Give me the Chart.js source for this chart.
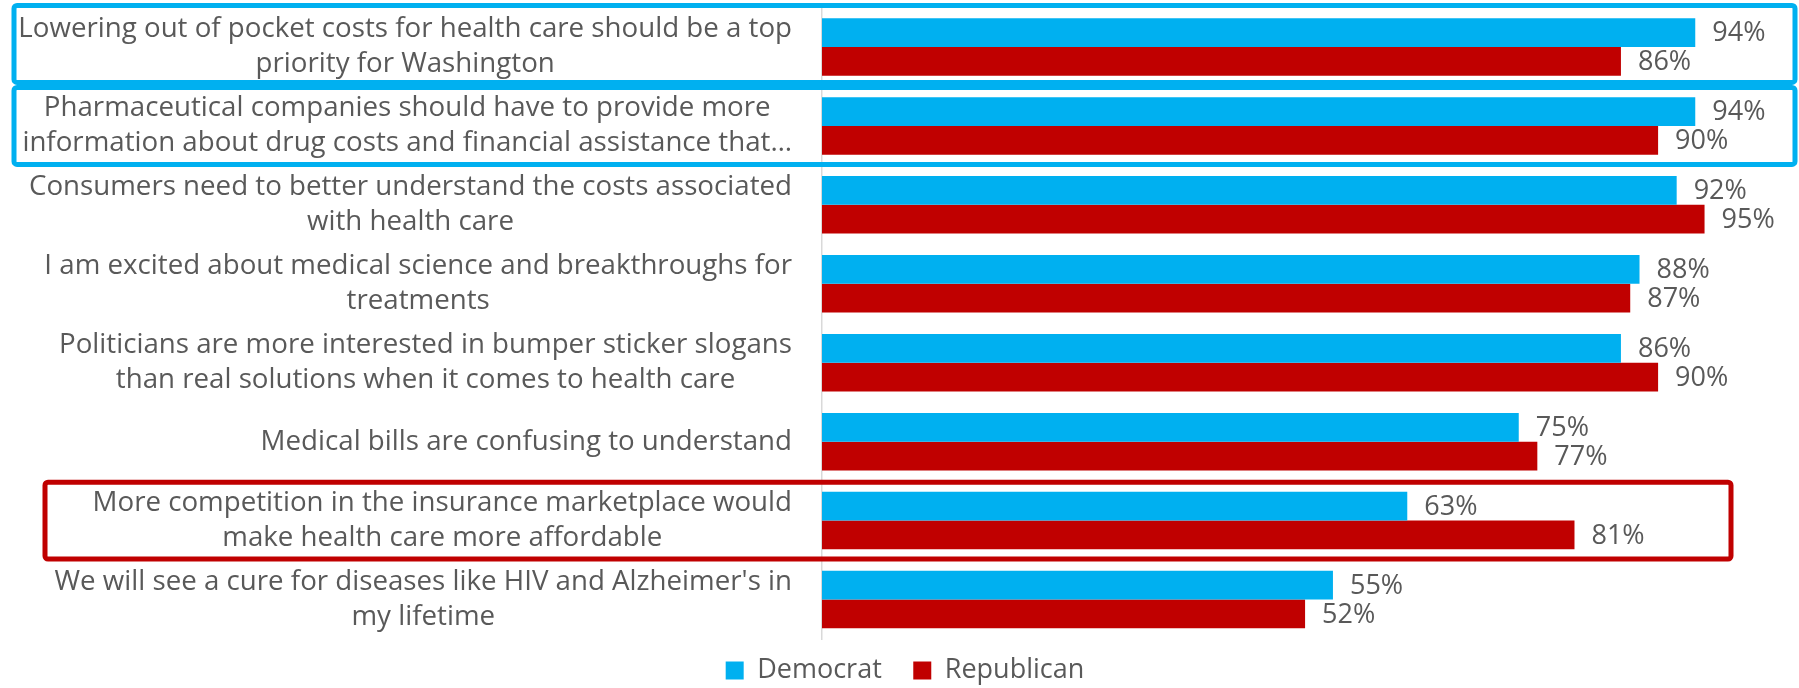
<!DOCTYPE html>
<html>
<head>
<meta charset="utf-8">
<title>Health care attitudes by party</title>
<script src="https://cdn.jsdelivr.net/npm/chart.js@4.4.1/dist/chart.umd.min.js"></script>
<style>
  html, body { margin: 0; padding: 0; background: #ffffff; }
  #wrap { width: 1799px; height: 688px; }
</style>
</head>
<body>
<div id="wrap"><canvas id="chart" width="1799" height="688"></canvas></div>
<script>
"use strict";

// Data
const categories = [
  ["Lowering out of pocket costs for health care should be a top", "priority for Washington"],
  ["Pharmaceutical companies should have to provide more", "information about drug costs and financial assistance that\u2026"],
  ["Consumers need to better understand the costs associated", "with health care"],
  ["I am excited about medical science and breakthroughs for", "treatments"],
  ["Politicians are more interested in bumper sticker slogans", "than real solutions when it comes to health care"],
  ["Medical bills are confusing to understand"],
  ["More competition in the insurance marketplace would", "make health care more affordable"],
  ["We will see a cure for diseases like HIV and Alzheimer's in", "my lifetime"],
];
const democrat = [94, 94, 92, 88, 86, 75, 63, 55];
const republican = [86, 90, 95, 87, 90, 77, 81, 52];
const seriesNames = ["Democrat", "Republican"];

// Look
const FONT = "'Open Sans', 'Noto Sans', sans-serif";
const TEXT_COLOR = "#595959";
const BLUE = "#00B0F0";
const RED = "#C00000";
const LABEL_RIGHT = 792; // right edge of the category label blocks
const LINE_HEIGHT = 35;

// Highlight frames drawn around some categories
const frames = [
  { index: 0, color: BLUE, left: 14, right: 1795, topAdj: -2, bottomAdj: -4 },
  { index: 1, color: BLUE, left: 14, right: 1795, topAdj: 1, bottomAdj: -1 },
  { index: 6, color: RED, left: 45, right: 1731, topAdj: 1, bottomAdj: -1 },
];

// Category labels: block right-aligned next to the axis, lines centred inside the block
const categoryLabels = {
  id: "categoryLabels",
  afterDraw(chart) {
    const { ctx } = chart;
    const yScale = chart.scales.y;
    ctx.save();
    ctx.font = `27.7px ${FONT}`;
    ctx.fillStyle = TEXT_COLOR;
    ctx.textAlign = "center";
    ctx.textBaseline = "middle";
    categories.forEach((lines, i) => {
      const y = yScale.getPixelForValue(i);
      const w = Math.max(...lines.map((l) => ctx.measureText(l).width));
      const cx = LABEL_RIGHT - w / 2;
      const y0 = y - ((lines.length - 1) * LINE_HEIGHT) / 2;
      lines.forEach((line, k) => ctx.fillText(line, cx, y0 + k * LINE_HEIGHT));
    });
    ctx.restore();
  },
};

// Percent labels at the end of each bar
const valueLabels = {
  id: "valueLabels",
  afterDatasetsDraw(chart) {
    const { ctx } = chart;
    ctx.save();
    ctx.font = `27px ${FONT}`;
    ctx.fillStyle = TEXT_COLOR;
    ctx.textAlign = "left";
    ctx.textBaseline = "middle";
    chart.data.datasets.forEach((ds, di) => {
      chart.getDatasetMeta(di).data.forEach((bar, i) => {
        ctx.fillText(`${ds.data[i]}%`, bar.x + 17, bar.y + 1);
      });
    });
    ctx.restore();
  },
};

const highlightFrames = {
  id: "highlightFrames",
  afterDraw(chart) {
    const { ctx } = chart;
    const yScale = chart.scales.y;
    const pitch = yScale.getPixelForValue(1) - yScale.getPixelForValue(0);
    ctx.save();
    ctx.lineWidth = 5;
    frames.forEach((f) => {
      const y = yScale.getPixelForValue(f.index);
      const top = y - pitch / 2 + f.topAdj;
      const bottom = y + pitch / 2 + f.bottomAdj;
      ctx.strokeStyle = f.color;
      ctx.beginPath();
      ctx.roundRect(f.left, top, f.right - f.left, bottom - top, 3);
      ctx.stroke();
    });
    ctx.restore();
  },
};

new Chart(document.getElementById("chart"), {
  type: "bar",
  data: {
    labels: categories.map((c) => c.join(" ")),
    datasets: [
      { label: seriesNames[0], data: democrat, backgroundColor: BLUE },
      { label: seriesNames[1], data: republican, backgroundColor: RED },
    ],
  },
  options: {
    indexAxis: "y",
    responsive: false,
    animation: false,
    devicePixelRatio: 1,
    categoryPercentage: 0.728,
    barPercentage: 1,
    layout: { padding: { top: 7.5, left: 59, right: 48, bottom: 0 } },
    scales: {
      x: { min: 0, max: 100, display: false },
      y: {
        grid: { display: false },
        border: { display: true, color: "#d9d9d9", width: 1.5 },
        ticks: { display: false },
        afterFit: (scale) => { scale.width = 822 - 59; },
      },
    },
    plugins: {
      legend: {
        position: "bottom",
        maxHeight: 49,
        labels: {
          font: { family: FONT, size: 27 },
          color: TEXT_COLOR,
          boxWidth: 18,
          boxHeight: 18,
          padding: 18,
          // widen the gap between the two legend entries a little
          generateLabels: (chart) =>
            Chart.defaults.plugins.legend.labels.generateLabels(chart).map((item, i) =>
              i === 0 ? { ...item, text: item.text + "\u2002" } : item
            ),
        },
      },
      tooltip: { enabled: false },
    },
  },
  plugins: [categoryLabels, valueLabels, highlightFrames],
});
</script>
</body>
</html>
